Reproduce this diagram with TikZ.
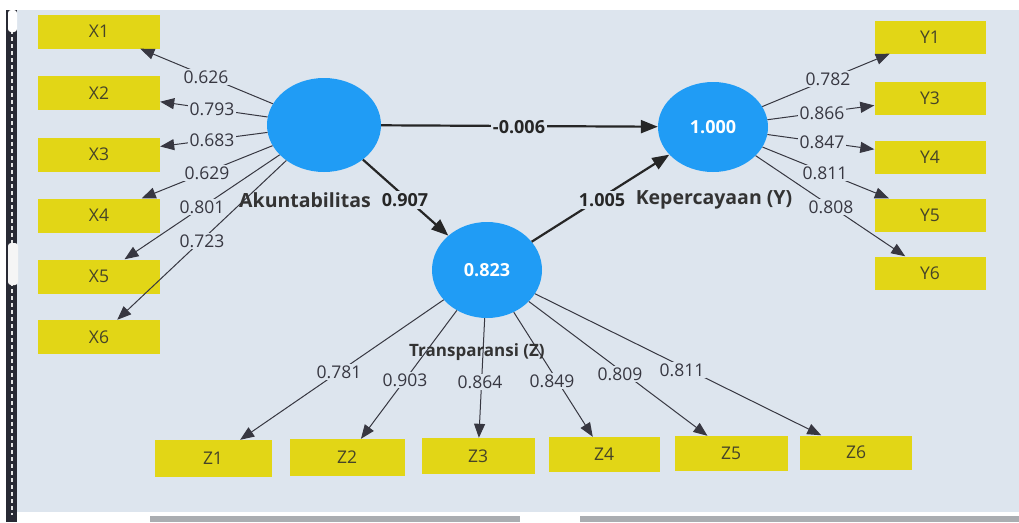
\documentclass[tikz,border=0pt]{standalone}
\usepackage{fontspec}
\setmainfont{Open Sans}
\usetikzlibrary{arrows.meta,shapes.geometric}
\definecolor{bg}{RGB}{221,229,238}
\definecolor{boxy}{RGB}{226,214,22}
\definecolor{boxtext}{RGB}{70,68,40}
\definecolor{lvblue}{RGB}{32,156,245}
\definecolor{lgray}{RGB}{55,55,65}
\definecolor{strip}{RGB}{40,42,52}
\begin{document}
\begin{tikzpicture}[x=1pt,y=-1pt,
  ind/.style={rectangle, fill=boxy, inner sep=0pt, minimum height=34pt, text=boxtext, font=\fontsize{17.5}{17.5}\selectfont},
  lv/.style={ellipse, fill=lvblue, inner sep=0pt, text=white, font=\bfseries\fontsize{18}{18}\selectfont},
  loadarr/.style={draw=lgray, line width=1pt, -{Triangle[length=14pt,width=11pt]}},
  patharr/.style={draw=black!85, line width=2.2pt, -{Triangle[length=17pt,width=13pt]}},
  lbl/.style={fill=bg, inner sep=1.5pt, text=lgray, font=\fontsize{17.5}{17.5}\selectfont},
  plbl/.style={fill=bg, inner sep=2pt, text=black!85, font=\bfseries\fontsize{18}{18}\selectfont},
  lvname/.style={text=black!80, font=\bfseries\fontsize{19.5}{19.5}\selectfont, inner sep=0pt}]
\useasboundingbox (0,0) rectangle (1019,522);
% screen background
\fill[white] (0,0) rectangle (1019,522);
\fill[bg] (17,10) rectangle (1019,512);
\fill[strip] (6,10) rectangle (17,522);
\draw[white!80!gray, line width=1.2pt, dash pattern=on 4pt off 3pt] (12,30) -- (12,515);
\fill[white, rounded corners=3pt] (8,10) rectangle (17,32);
\fill[white!92!gray, rounded corners=3pt] (8,243) rectangle (18,285);
\fill[gray!55!bg] (150,516) rectangle (520,522);
\fill[gray!55!bg] (580,516) rectangle (1019,522);

% indicator boxes
\node[ind, minimum width=122pt] (X1) at (99,31.5) {X1};
\node[ind, minimum width=122pt] (X2) at (99,93) {X2};
\node[ind, minimum width=122pt] (X3) at (99,154.5) {X3};
\node[ind, minimum width=122pt] (X4) at (99,215.5) {X4};
\node[ind, minimum width=122pt] (X5) at (99,276.5) {X5};
\node[ind, minimum width=122pt] (X6) at (99,337) {X6};
\node[ind, minimum width=111pt, minimum height=33pt] (Y1) at (930,37) {Y1};
\node[ind, minimum width=111pt, minimum height=33pt] (Y3) at (930,98) {Y3};
\node[ind, minimum width=111pt, minimum height=33pt] (Y4) at (930,157) {Y4};
\node[ind, minimum width=111pt, minimum height=33pt] (Y5) at (930,215) {Y5};
\node[ind, minimum width=111pt, minimum height=33pt] (Y6) at (930,273) {Y6};
\node[ind, minimum width=117pt, minimum height=37pt] (Z1) at (213,458.5) {Z1};
\node[ind, minimum width=115pt, minimum height=37pt] (Z2) at (347,457.5) {Z2};
\node[ind, minimum width=113pt, minimum height=36pt] (Z3) at (478,456) {Z3};
\node[ind, minimum width=111pt, minimum height=35pt] (Z4) at (604,454.5) {Z4};
\node[ind, minimum width=113pt, minimum height=35pt] (Z5) at (731,453.5) {Z5};
\node[ind, minimum width=112pt, minimum height=34pt] (Z6) at (856,452.5) {Z6};

% latent variables
\node[lv, minimum width=114pt, minimum height=94pt] (A) at (324,125) {};
\node[lv, minimum width=110pt, minimum height=90pt] (K) at (713,127) {1.000};
\node[lv, minimum width=110pt, minimum height=96pt] (T) at (487,270) {0.823};

% outer loadings
\foreach \i in {1,...,6} {\draw[loadarr] (A) -- (X\i);}
\foreach \i in {1,3,4,5,6} {\draw[loadarr] (K) -- (Y\i);}
\foreach \i in {1,...,6} {\draw[loadarr] (T) -- (Z\i);}

% structural paths
\draw[patharr] (A) -- (K);
\draw[patharr] (A) -- (T);
\draw[patharr] (T) -- (K);

% loading labels
\node[lbl] (lx1) at (206,77) {0.626};
\node[lbl] (lx2) at (212,109) {0.793};
\node[lbl] (lx3) at (212,140) {0.683};
\node[lbl] (lx4) at (207,173) {0.629};
\node[lbl] (lx5) at (202,207) {0.801};
\node[lbl] (lx6) at (202,241) {0.723};
\node[lbl] (ly1) at (828,79) {0.782};
\node[lbl] (ly3) at (822,113) {0.866};
\node[lbl] (ly4) at (822,142) {0.847};
\node[lbl] (ly5) at (825,173) {0.811};
\node[lbl] (ly6) at (831,207) {0.808};
\node[lbl] (lz1) at (339,372) {0.781};
\node[lbl] (lz2) at (405,380) {0.903};
\node[lbl] (lz3) at (480,382) {0.864};
\node[lbl] (lz4) at (552,381) {0.849};
\node[lbl] (lz5) at (620,374) {0.809};
\node[lbl] (lz6) at (682,370) {0.811};

% path labels
\node[plbl] (p1) at (519,127) {-0.006};
\node[plbl] (p2) at (405,200) {0.907};
\node[plbl] (p3) at (602,200) {1.005};

% latent names
\node[lvname] (nA) at (305,200) {Akuntabilitas};
\node[lvname] (nK) at (714,200) {Kepercayaan (Y)};
\node[lvname, font=\bfseries\fontsize{17}{17}\selectfont] (nT) at (477,352) {Transparansi (Z)};
\end{tikzpicture}
\end{document}
